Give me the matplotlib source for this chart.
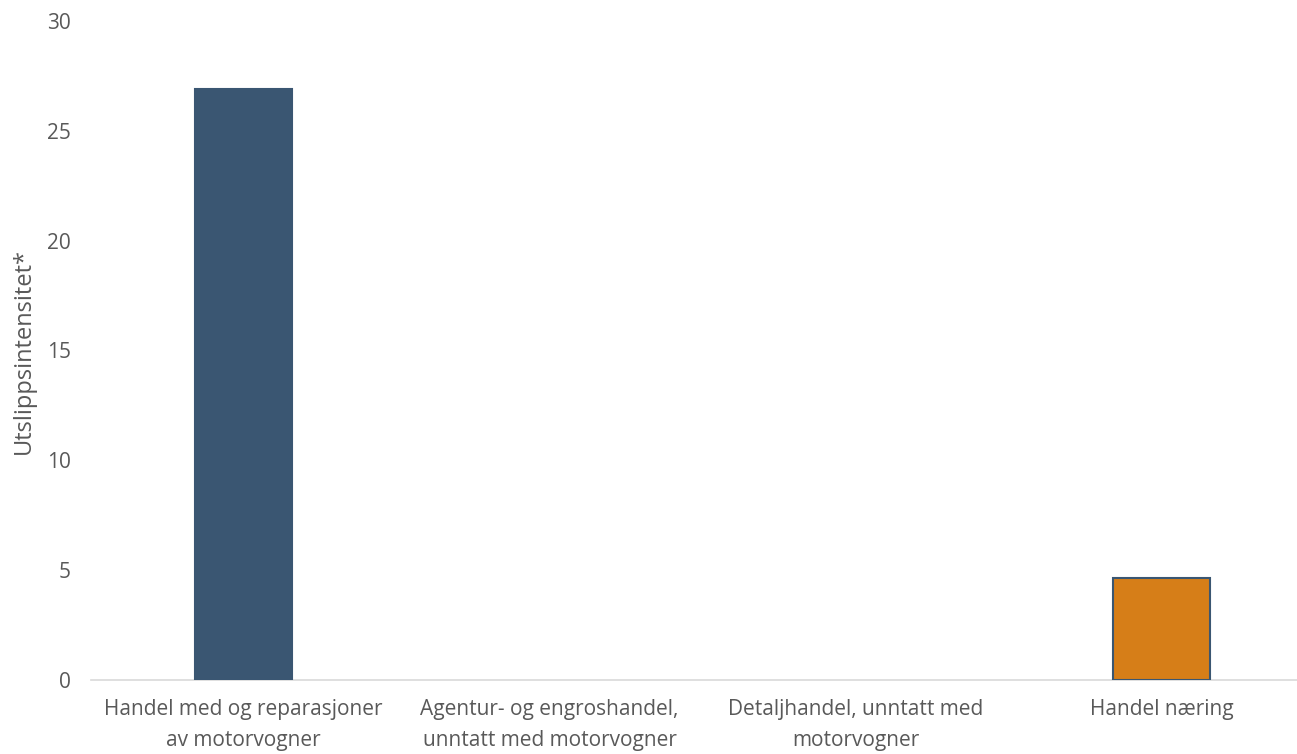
import matplotlib
matplotlib.use("Agg")
import matplotlib.pyplot as plt

categories = ["Handel med og reparasjoner\nav motorvogner",
              "Agentur- og engroshandel,\nunntatt med motorvogner",
              "Detaljhandel, unntatt med\nmotorvogner",
              "Handel næring"]
values = [26.9, 0.0, 0.0, 4.65]
colors = ["#3A5672", "#3A5672", "#3A5672", "#D67E18"]
yticks = [0, 5, 10, 15, 20, 25, 30]

plt.rcParams['font.family'] = ['Open Sans', 'DejaVu Sans']
fig = plt.figure(figsize=(12.97, 7.54), dpi=100)
ax = fig.add_axes([90.5/1297, 74/754, 1224.5/1297, 659/754])
x = list(range(len(categories)))
lw = [1.5 if v > 0 else 0 for v in values]
ax.bar(x, values, width=0.317, color=colors, edgecolor="#3A5672", linewidth=lw, zorder=3)
ax.set_xlim(-0.5, 3.5)
ax.set_ylim(0, 30)
ax.set_yticks(yticks)
ax.set_xticks(x)
ax.set_xticklabels(categories, fontsize=15, color="#595959", linespacing=1.6)
ax.tick_params(axis='y', labelsize=15, colors="#595959", length=0, pad=14)
ax.tick_params(axis='x', length=0, pad=14)
for s in ["top", "right", "left"]:
    ax.spines[s].set_visible(False)
ax.spines["bottom"].set_color("#D9D9D9")
ax.spines["bottom"].set_linewidth(1.2)
ax.set_ylabel("Utslippsintensitet*", fontsize=17, color="#595959", labelpad=8)
fig.savefig("out.png", dpi=100)
